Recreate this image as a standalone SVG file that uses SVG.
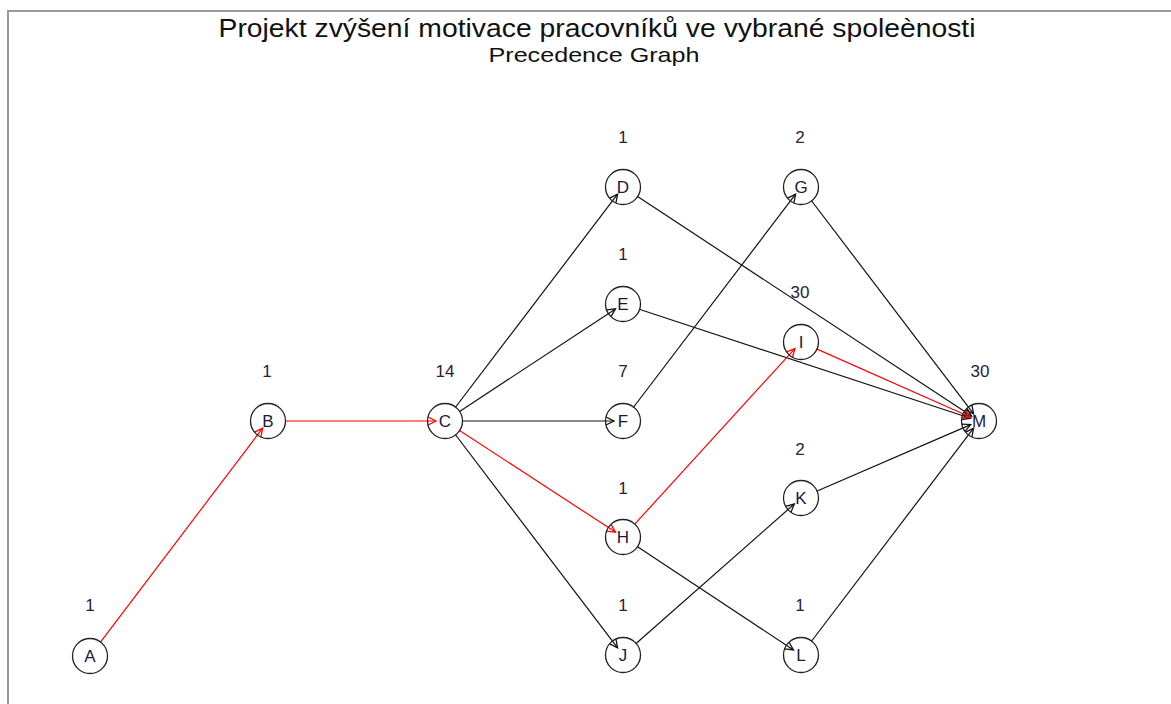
<svg xmlns="http://www.w3.org/2000/svg" width="1171" height="704" viewBox="0 0 1171 704">
<defs>
<style>
.t{font-family:"Liberation Sans",Arial,sans-serif;fill:#111;text-anchor:middle}
.nd circle{fill:none;stroke:#222;stroke-width:1.3}
.lbl{font-family:"Liberation Sans",Arial,sans-serif;font-size:17px;fill:#1a1a3a;text-anchor:middle}
.num{font-family:"Liberation Sans",Arial,sans-serif;font-size:17px;fill:#2a2040;text-anchor:middle}
.e{stroke:#111;stroke-width:1.2;fill:none;marker-end:url(#ab)}
.r{stroke:#f00;stroke-width:1.2;fill:none;marker-end:url(#ar)}
</style>
<marker id="ab" viewBox="-10 -6 12 12" markerWidth="12" markerHeight="12" refX="0" refY="0" orient="auto" markerUnits="userSpaceOnUse">
<path d="M-8,-4 L0,0 L-8,4" fill="none" stroke="#111" stroke-width="1.3"/>
</marker>
<marker id="ar" viewBox="-10 -6 12 12" markerWidth="12" markerHeight="12" refX="0" refY="0" orient="auto" markerUnits="userSpaceOnUse">
<path d="M-8,-4 L0,0 L-8,4" fill="none" stroke="#f00" stroke-width="1.3"/>
</marker>
</defs>
<rect width="1171" height="704" fill="#fff"/>
<path d="M8,704 L8,11 L1171,11" fill="none" stroke="#9a9a9a" stroke-width="2"/>
<text class="t" x="597" y="37" font-size="25.5" textLength="757" lengthAdjust="spacingAndGlyphs">Projekt zvýšení motivace pracovníků ve vybrané spoleènosti</text>
<text class="t" x="594" y="62" font-size="21" textLength="211" lengthAdjust="spacingAndGlyphs">Precedence Graph</text>
<g id="edges">
<line class="e" x1="455.3" y1="407.5" x2="617.6" y2="194.2"/>
<line class="e" x1="459.2" y1="411.7" x2="615.5" y2="308.9"/>
<line class="e" x1="462" y1="421" x2="614" y2="421"/>
<line class="e" x1="455.3" y1="434.5" x2="617.6" y2="647.8"/>
<line class="e" x1="637.2" y1="196.3" x2="971.5" y2="416.1"/>
<line class="e" x1="639.2" y1="309.3" x2="970.4" y2="418.2"/>
<line class="e" x1="633.3" y1="407.5" x2="795.6" y2="194.2"/>
<line class="e" x1="811.3" y1="200.5" x2="973.6" y2="413.8"/>
<line class="e" x1="637.2" y1="546.4" x2="793.5" y2="650.0"/>
<line class="e" x1="635.8" y1="643.8" x2="794.3" y2="504.0"/>
<line class="e" x1="816.6" y1="491.2" x2="970.7" y2="424.6"/>
<line class="e" x1="811.3" y1="641.5" x2="973.6" y2="428.2"/>
<line class="r" x1="100.3" y1="642.4" x2="262.6" y2="428.2"/>
<line class="r" x1="285" y1="421" x2="436" y2="421"/>
<line class="r" x1="459.2" y1="430.3" x2="615.5" y2="532.1"/>
<line class="r" x1="634.5" y1="524.4" x2="794.9" y2="348.6"/>
<line class="r" x1="816.5" y1="348.9" x2="970.8" y2="417.3"/>
</g>
<g id="A" class="nd"><circle cx="90" cy="656" r="17.5"/><text class="lbl" x="90" y="662">A</text><text class="num" x="90" y="611">1</text></g>
<g id="B" class="nd"><circle cx="268" cy="421" r="17.5"/><text class="lbl" x="268" y="427">B</text><text class="num" x="267" y="377">1</text></g>
<g id="C" class="nd"><circle cx="445" cy="421" r="17.5"/><text class="lbl" x="445" y="427">C</text><text class="num" x="445" y="377">14</text></g>
<g id="D" class="nd"><circle cx="623" cy="187" r="17.5"/><text class="lbl" x="623" y="193">D</text><text class="num" x="623" y="143">1</text></g>
<g id="E" class="nd"><circle cx="623" cy="304" r="17.5"/><text class="lbl" x="623" y="310">E</text><text class="num" x="623" y="260">1</text></g>
<g id="F" class="nd"><circle cx="623" cy="421" r="17.5"/><text class="lbl" x="623" y="427">F</text><text class="num" x="623" y="377">7</text></g>
<g id="H" class="nd"><circle cx="623" cy="537" r="17.5"/><text class="lbl" x="623" y="543">H</text><text class="num" x="623" y="494">1</text></g>
<g id="J" class="nd"><circle cx="623" cy="655" r="17.5"/><text class="lbl" x="623" y="661">J</text><text class="num" x="623" y="611">1</text></g>
<g id="G" class="nd"><circle cx="801" cy="187" r="17.5"/><text class="lbl" x="801" y="193">G</text><text class="num" x="800" y="143">2</text></g>
<g id="I" class="nd"><circle cx="801" cy="342" r="17.5"/><text class="lbl" x="801" y="348">I</text><text class="num" x="800" y="298">30</text></g>
<g id="K" class="nd"><circle cx="801" cy="498" r="17.5"/><text class="lbl" x="801" y="504">K</text><text class="num" x="800" y="455">2</text></g>
<g id="L" class="nd"><circle cx="801" cy="655" r="17.5"/><text class="lbl" x="801" y="661">L</text><text class="num" x="800" y="611">1</text></g>
<g id="M" class="nd"><circle cx="979" cy="421" r="17.5"/><text class="lbl" x="979" y="427">M</text><text class="num" x="980" y="377">30</text></g>
</svg>
